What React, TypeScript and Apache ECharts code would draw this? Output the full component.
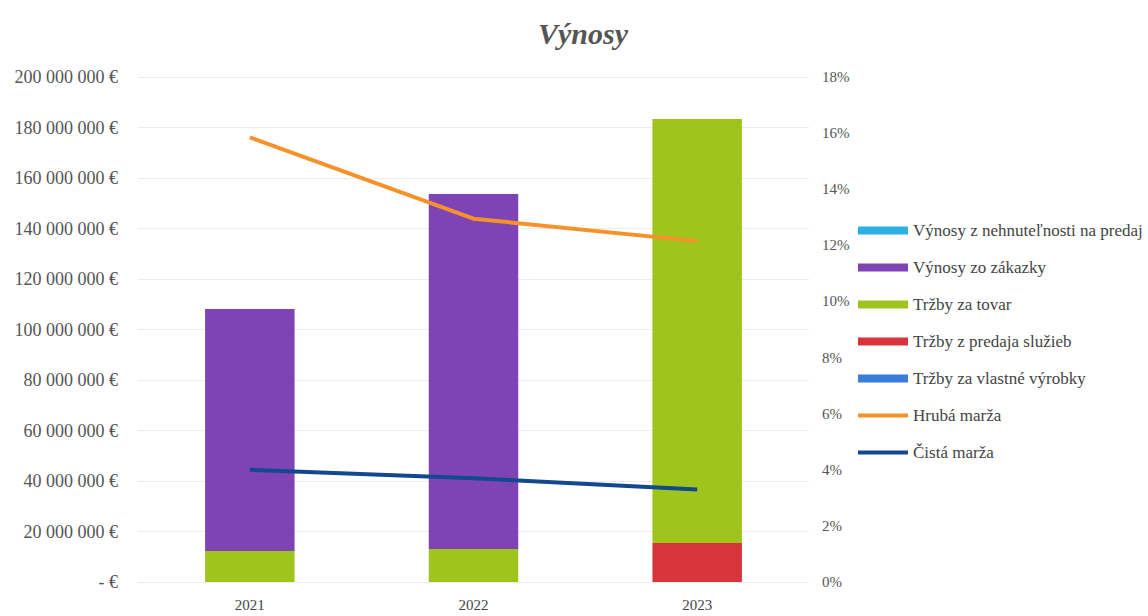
import React, { useEffect, useRef } from "react";
import * as echarts from "echarts";

const years = ["2021", "2022", "2023"];
const vynosyNehnutelnosti = [0, 0, 0];
const vynosyZakazky = [95800000, 140600000, 0];
const trzbyTovar = [12300000, 13100000, 168000000];
const trzbySluzby = [0, 0, 15400000];
const trzbyVyrobky = [0, 0, 0];
const hrubaMarza = [15.85, 12.95, 12.15];
const cistaMarza = [4.0, 3.7, 3.3];
const legendOrder = [
  "Výnosy z nehnuteľnosti na predaj",
  "Výnosy zo zákazky",
  "Tržby za tovar",
  "Tržby z predaja služieb",
  "Tržby za vlastné výrobky",
  "Hrubá marža",
  "Čistá marža",
];

const FONT = "Liberation Serif";
const LINE_ICON = "path://M0,0 L50,0 L50,4 L0,4 Z";

function fmtEur(v: number) {
  if (v === 0) return "- €";
  return String(v).replace(/\B(?=(\d{3})+(?!\d))/g, " ") + " €";
}

export default function App() {
  const ref = useRef<HTMLDivElement>(null);
  useEffect(() => {
    document.body.style.margin = "0";
    const chart = echarts.init(ref.current!, undefined, { renderer: "svg" });
    const bar = (name: string, data: number[], color: string) => ({
      name,
      type: "bar",
      stack: "v",
      data,
      barWidth: "40%",
      itemStyle: { color },
    });
    const legendText = { fontFamily: FONT, fontSize: 17, color: "#444444" };
    chart.setOption({
      animation: false,
      backgroundColor: "#ffffff",
      textStyle: { fontFamily: FONT },
      title: {
        text: "Výnosy",
        left: 578,
        textAlign: "center",
        top: 13,
        textStyle: {
          fontFamily: FONT,
          fontSize: 30,
          fontWeight: "bold",
          fontStyle: "italic",
          color: "#555555",
        },
      },
      grid: { left: 138, right: 339, top: 77, bottom: 34, containLabel: false },
      legend: {
        orient: "vertical",
        left: 853,
        top: 217,
        itemWidth: 50,
        itemHeight: 8,
        itemGap: 20,
        textStyle: legendText,
        data: legendOrder.map((n, i) =>
          i < 5
            ? { name: n, icon: "rect", textStyle: legendText }
            : { name: n, icon: LINE_ICON, textStyle: legendText }
        ),
      },
      xAxis: {
        type: "category",
        data: years,
        axisLine: { show: false },
        axisTick: { show: false },
        axisLabel: { margin: 15, fontFamily: FONT, fontSize: 15, color: "#444444" },
      },
      yAxis: [
        {
          type: "value",
          min: 0,
          max: 200000000,
          interval: 20000000,
          axisLine: { show: false },
          axisTick: { show: false },
          splitLine: { lineStyle: { color: "#ececec", width: 1 } },
          axisLabel: {
            margin: 20,
            fontFamily: FONT,
            fontSize: 18,
            color: "#555555",
            formatter: (v: number) => fmtEur(v),
          },
        },
        {
          type: "value",
          min: 0,
          max: 18,
          interval: 2,
          axisLine: { show: false },
          axisTick: { show: false },
          splitLine: { show: false },
          axisLabel: {
            margin: 13,
            fontFamily: FONT,
            fontSize: 15,
            color: "#555555",
            formatter: "{value}%",
          },
        },
      ],
      series: [
        bar("Tržby za vlastné výrobky", trzbyVyrobky, "#3b7dd8"),
        bar("Tržby z predaja služieb", trzbySluzby, "#d8343c"),
        bar("Tržby za tovar", trzbyTovar, "#9fc41c"),
        bar("Výnosy zo zákazky", vynosyZakazky, "#7e44b6"),
        bar("Výnosy z nehnuteľnosti na predaj", vynosyNehnutelnosti, "#2eb0e4"),
        {
          name: "Hrubá marža",
          type: "line",
          yAxisIndex: 1,
          data: hrubaMarza,
          symbol: "none",
          lineStyle: { color: "#f7922b", width: 4 },
          itemStyle: { color: "#f7922b" },
        },
        {
          name: "Čistá marža",
          type: "line",
          yAxisIndex: 1,
          data: cistaMarza,
          symbol: "none",
          lineStyle: { color: "#11488e", width: 4 },
          itemStyle: { color: "#11488e" },
        },
      ],
    });
    return () => chart.dispose();
  }, []);
  return <div ref={ref} style={{ width: 1148, height: 616 }} />;
}
